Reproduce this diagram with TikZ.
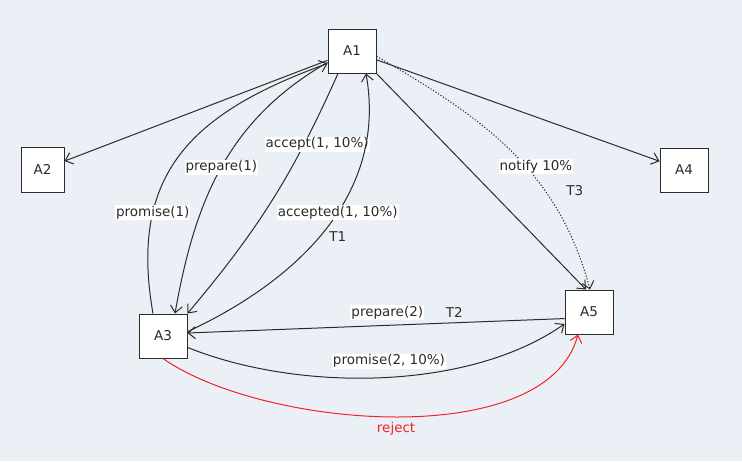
\documentclass[tikz,border=0pt]{standalone}
\usepackage{fontspec}
\setmainfont{DejaVu Sans}
\usetikzlibrary{positioning,arrows.meta}

\definecolor{canvas}{HTML}{EBF0F7}
\definecolor{ink}{HTML}{2B2B2B}
\definecolor{rejectred}{HTML}{EE2424}

\begin{document}
\begin{tikzpicture}[x=1pt, y=-1pt, font=\fontsize{13.5}{16}\selectfont, text=ink,
        agent/.style={draw=ink, fill=white, line width=1pt, minimum width=48pt, minimum height=44pt, inner sep=0pt},
        msg/.style={draw=ink, line width=1pt, -{Straight Barb[length=7pt,width=12pt]}},
        lbl/.style={fill=white, inner sep=1pt},
        tag/.style={inner sep=1pt}]
            \fill [canvas] (0,0) rectangle (742,461);
            \useasboundingbox (0,0) rectangle (742,461);

            \node [agent] (A1) at (352,51) {A1};
            \node [agent, minimum width=43pt, minimum height=45pt] (A2) at (42.5,169.5) {A2};
            \node [agent] (A3) at (163,336) {A3};
            \node [agent] (A4) at (684,170) {A4};
            \node [agent] (A5) at (589,312) {A5};

            \draw [msg] (A1) -- (A2);
            \draw [msg] (A1) -- (A4);
            \draw [msg] (A1.south east) -- ([xshift=-3pt]A5.north);
            \draw [msg, dash pattern=on 1.2pt off 1.8pt] (A1.-12) to[out=-30, in=105] node [lbl, pos=.57, xshift=10pt] (notify) {notify 10\%} ([xshift=1pt]A5.north);
            \node [tag, below=10pt of notify.south east, xshift=1pt] (t3) {T3};

            \draw [msg] ([xshift=-10pt]A3.north) to[out=100, in=200, looseness=1.2] node [lbl, pos=.28] (promise1) {promise(1)} (A1.207);
            \draw [msg] (A1.205) to[out=210, in=80] node [lbl, pos=.5] (prepare1) {prepare(1)} ([xshift=12pt]A3.north);
            \draw [msg] ([xshift=-14pt]A1.south) to[bend left=8] node [lbl, pos=.26, xshift=13pt] (accept1) {accept(1, 10\%)} (A3.north east);
            \draw [msg] (A3.10) to[out=25, in=-80] node [lbl, pos=.56] (accepted1) {accepted(1, 10\%)} ([xshift=14pt]A1.south);
            \node [tag, below=10pt of accepted1] (t1) {T1};

            \draw [msg] (A5.195) -- node [lbl, pos=.47, above=5pt] (prepare2) {prepare(2)} (A3.7);
            \node [tag, right=20pt of prepare2] (t2) {T2};
            \draw [msg] (A3.-25) to[out=-22, in=215, looseness=.8] node [lbl, pos=.52, above=8pt] (promise2) {promise(2, 10\%)} (A5.206);

            \draw [msg, draw=rejectred] (A3.south) to[out=-35, in=-105, looseness=.75] node [tag, text=rejectred, pos=.5, below=4pt] (reject) {reject} ([xshift=-11pt]A5.south);
        \end{tikzpicture}
\end{document}
